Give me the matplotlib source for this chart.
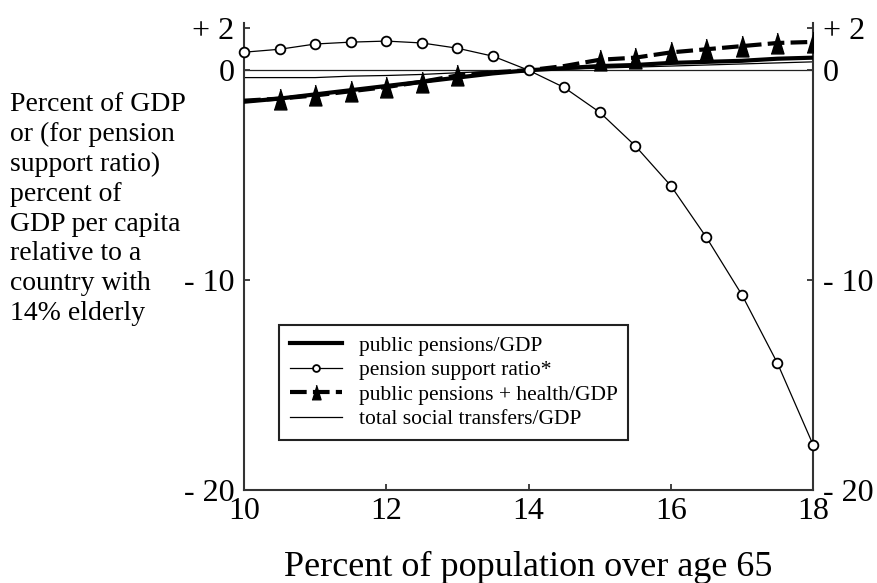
import matplotlib
matplotlib.use('Agg')
import matplotlib.pyplot as plt

# share of population over 65
age_share = [10, 10.5, 11, 11.5, 12, 12.5, 13, 13.5, 14, 14.5, 15, 15.5, 16, 16.5, 17, 17.5, 18]

# values
public_pensions = [-1.5, -1.35, -1.15, -0.95, -0.75, -0.55, -0.35, -0.15, 0.0, 0.1, 0.2,
                   0.25, 0.35, 0.4, 0.45, 0.55, 0.6]
support_ratio = [0.86, 1.0, 1.25, 1.34, 1.39, 1.3, 1.05, 0.67, 0.0, -0.82, -2.0, -3.6,
                 -5.5, -7.96, -10.7, -13.96, -17.84]
pensions_health = [-1.45, -1.35, -1.2, -1.0, -0.8, -0.55, -0.25, -0.1, 0.0, 0.2, 0.5,
                   0.6, 0.85, 1.0, 1.15, 1.3, 1.35]
social_transfers = [-0.35, -0.35, -0.35, -0.28, -0.25, -0.2, -0.12, -0.05, 0.0, 0.05, 0.1,
                    0.15, 0.2, 0.25, 0.3, 0.35, 0.4]

y_ticks = [-20, -10, 0, 2]
y_tick_labels = ['- 20', '- 10', '0', '+ 2']
x_ticks = [10, 12, 14, 16, 18]

plt.rcParams['font.family'] = ['Liberation Serif', 'DejaVu Serif']

fig = plt.figure(figsize=(8.78, 5.83), dpi=100)
ax = fig.add_axes([0.278, 0.1595, 0.648, 0.801])

tri = [(-0.62, -1), (0.62, -1), (0, 1)]

ax.axhline(0, color='#222222', linewidth=0.9, zorder=1)
ax.plot(age_share, social_transfers, color='black', linewidth=0.9, zorder=2,
        label='total social transfers/GDP')
ax.plot(age_share, public_pensions, color='black', linewidth=3, zorder=3,
        label='public pensions/GDP')
ax.plot(age_share, pensions_health, color='black', linewidth=3, dashes=(4, 1.5),
        marker=tri, markersize=15, markevery=[1, 2, 3, 4, 5, 6, 10, 11, 12, 13, 14, 15, 16],
        zorder=4, label='public pensions + health/GDP')
ax.plot(age_share, support_ratio, color='black', linewidth=0.9, marker='o', markersize=7,
        markerfacecolor='white', markeredgewidth=1.3, zorder=5, clip_on=False,
        label='pension support ratio*')

ax.set_xlim(10, 18)
ax.set_ylim(-20, 2.25)
ax.set_xticks(x_ticks)
ax.set_yticks(y_ticks)
ax.set_yticklabels(y_tick_labels)
ax.tick_params(axis='both', direction='in', length=4, width=1.3, labelsize=23,
               right=True, labelright=True, color='#333333')
ax.tick_params(axis='x', pad=5)
ax.tick_params(axis='y', pad=7)

ax.spines['top'].set_visible(False)
for s in ['left', 'right', 'bottom']:
    ax.spines[s].set_linewidth(1.5)
    ax.spines[s].set_color('#333333')

ax.set_xlabel('Percent of population over age 65', fontsize=26, labelpad=18)

fig.text(0.011, 0.842,
         'Percent of GDP\nor (for pension\nsupport ratio)\npercent of\nGDP per capita\n'
         'relative to a\ncountry with\n14% elderly',
         fontsize=20, ha='left', va='top', linespacing=1.25)

handles, labels = ax.get_legend_handles_labels()
order = [1, 3, 2, 0]
leg = ax.legend([handles[i] for i in order], [labels[i] for i in order],
                loc='upper left', bbox_to_anchor=(0.0615, 0.353), borderaxespad=0,
                fontsize=15.5, frameon=True, fancybox=False, handlelength=2.4,
                labelspacing=0.2, borderpad=0.5, handletextpad=0.8)
leg.get_frame().set_edgecolor('#222222')
leg.get_frame().set_linewidth(1.5)
leg.get_frame().set_alpha(1)
for h in leg.legend_handles:
    if h.get_marker() not in (None, 'None', ''):
        h.set_markersize(h.get_markersize() * 0.7)

fig.savefig('out.png', dpi=100)
